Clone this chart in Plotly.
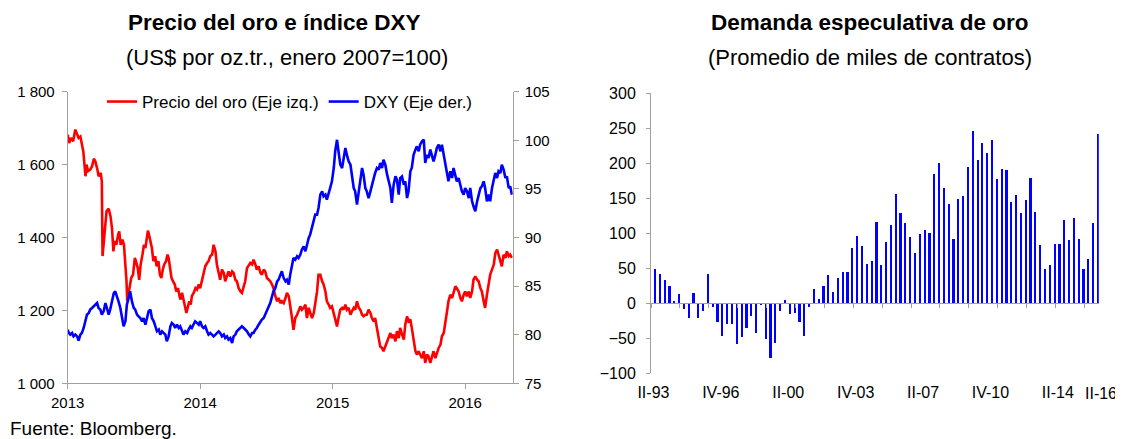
import pandas as pd
import plotly.graph_objects as go

# ---------------- Left chart data ----------------
START = "2013-01-01"
years = [2013, 2014, 2015, 2016]

# day offsets from START (positions along the axis) and values
gold_days = [0, 4, 9, 15, 21, 26, 30, 35, 39, 43, 47, 49, 52, 56, 62, 67, 72, 76, 82, 85,
             91, 94, 96, 100, 104, 107, 113, 118, 122, 126, 129, 134, 139, 142, 146, 151, 155, 159, 162, 164,
             168, 172, 175, 180, 185, 188, 193, 197, 201, 206, 210, 214, 218, 221, 225, 229, 232, 236, 241, 245,
             250, 254, 258, 262, 266, 271, 275, 278, 282, 286, 290, 295, 299, 304, 308, 311, 315, 319, 322, 327,
             331, 335, 339, 342, 347, 352, 356, 361, 365, 370, 375, 379, 384, 388, 393, 398, 402, 407,
             411, 416, 420, 425, 430, 434, 439, 443, 448, 453, 457, 462, 466, 471, 476, 480, 485, 489, 494, 499,
             503, 508, 512, 517, 521, 526, 531, 535, 540, 544, 549, 554, 558, 563, 567, 572, 577, 581, 586, 590,
             595, 600, 604, 609, 613, 618, 622, 627, 632, 636, 641, 645, 650, 655, 659, 664, 668, 673, 678, 682,
             687, 691, 696, 701, 705, 710, 714, 719, 723, 728, 733, 737, 742, 746, 751, 756, 760, 765, 769, 774,
             779, 783, 788, 792, 797, 802, 806, 811, 815, 820,
             824, 829, 834, 838, 843, 847, 852, 857, 861, 866, 870, 875, 880, 884, 889, 893, 898, 903, 907, 912,
             916, 921, 926, 930, 935, 939, 944, 948, 953, 958, 962, 967, 971, 976, 981, 985, 990, 994, 999, 1004,
             1008, 1013, 1017, 1022, 1027, 1031, 1036, 1040, 1045, 1049, 1054, 1059, 1063, 1068, 1072, 1077, 1082, 1086, 1091, 1095,
             1100, 1105, 1109, 1114, 1118, 1123, 1128, 1132, 1137, 1141, 1146, 1150, 1155, 1160, 1164, 1169, 1174, 1178, 1183, 1187,
             1192, 1196, 1201, 1206, 1210, 1215, 1219, 1224]
gold_usd = [1682, 1659, 1673, 1664, 1696, 1682, 1673, 1677, 1659, 1636, 1591, 1568, 1600, 1582, 1586, 1595, 1616, 1609, 1586, 1568,
            1577, 1554, 1349, 1399, 1426, 1472, 1479, 1458, 1426, 1362, 1390, 1380, 1408, 1417, 1380, 1394, 1380, 1335, 1280, 1225,
            1252, 1266, 1289, 1298, 1344, 1335, 1316, 1284, 1326, 1353, 1380, 1371, 1403, 1419, 1403, 1380, 1371, 1335, 1349, 1321,
            1335, 1298, 1289, 1312, 1326, 1335, 1353, 1344, 1316, 1289, 1280, 1271, 1252, 1261, 1239, 1230, 1248, 1225, 1216, 1193,
            1207, 1225, 1216, 1239, 1248, 1261, 1257, 1271, 1261, 1280, 1298, 1321, 1330, 1335, 1349, 1353, 1380, 1362,
            1326, 1298, 1284, 1312, 1303, 1280, 1298, 1307, 1293, 1307, 1303, 1284, 1280, 1261, 1252, 1248, 1266, 1280, 1316, 1326,
            1330, 1326, 1339, 1326, 1312, 1321, 1303, 1298, 1312, 1307, 1289, 1284, 1280, 1271, 1261, 1239, 1225, 1234, 1220, 1225,
            1220, 1234, 1248, 1239, 1216, 1179, 1147, 1179, 1188, 1197, 1211, 1202, 1207, 1216, 1179, 1207, 1193, 1179, 1193, 1220,
            1252, 1298, 1298, 1280, 1271, 1252, 1225, 1216, 1207, 1211, 1188, 1170, 1156, 1179, 1202, 1207, 1202, 1216, 1202, 1207,
            1188, 1197, 1207, 1202, 1225, 1207, 1202, 1188, 1184, 1188,
            1188, 1202, 1193, 1179, 1170, 1179, 1152, 1115, 1101, 1097, 1088, 1101, 1115, 1129, 1138, 1124, 1134, 1115, 1143, 1124,
            1152, 1134, 1120, 1161, 1184, 1170, 1175, 1152, 1115, 1088, 1079, 1088, 1079, 1069, 1088, 1056, 1079, 1074, 1056, 1079,
            1088, 1069, 1083, 1097, 1106, 1129, 1138, 1170, 1197, 1225, 1243, 1234, 1248, 1266, 1261, 1252, 1234, 1225, 1243, 1252,
            1239, 1252, 1234, 1252, 1284, 1293, 1284, 1280, 1261, 1252, 1225, 1207, 1243, 1280, 1298, 1312, 1326, 1357, 1367, 1353,
            1330, 1321, 1353, 1344, 1362, 1349, 1353, 1344]

dxy_days = [0, 3, 7, 12, 16, 21, 26, 30, 35, 39, 44, 49, 53, 58, 62, 67, 72, 76, 81, 85,
            90, 94, 99, 104, 108, 113, 117, 122, 127, 131, 136, 140, 145, 150, 154, 159, 163, 168, 172, 177,
            182, 186, 191, 195, 200, 205, 209, 214, 218, 223, 228, 232, 237, 241, 246, 251, 255, 260, 264, 269,
            273, 278, 283, 287, 292, 296, 301, 306, 310, 315, 319, 324, 329, 333, 338, 342, 347, 351, 356, 361,
            365, 370, 374, 379, 384, 388, 393, 397, 402, 407,
            411, 416, 420, 425, 430, 434, 439, 443, 448, 453, 457, 462, 466, 471, 476, 480, 485, 489, 494, 499,
            503, 508, 512, 517, 521, 526, 531, 535, 540, 544, 549, 554, 558, 563, 567, 572, 577, 581, 586, 590,
            595, 600, 604, 609, 613, 618, 622, 627, 632, 636, 641, 645, 650, 655, 659, 664, 668, 673, 678, 682,
            687, 691, 696, 701, 705, 710, 714, 719, 723, 728, 733, 737, 742, 746, 751, 756, 760, 765, 769, 774,
            779, 783, 788, 792, 797, 802, 806, 811, 815, 820,
            824, 829, 834, 838, 843, 847, 852, 857, 861, 866, 870, 875, 880, 884, 889, 893, 898, 903, 907, 912,
            916, 921, 926, 930, 935, 939, 944, 948, 953, 958, 962, 967, 971, 976, 981, 985, 990, 994, 999, 1004,
            1008, 1013, 1017, 1022, 1027, 1031, 1036, 1040, 1045, 1049, 1054, 1059, 1063, 1068, 1072, 1077, 1082, 1086, 1091, 1095,
            1100, 1105, 1109, 1114, 1118, 1123, 1128, 1132, 1137, 1141, 1146, 1150, 1155, 1160, 1164, 1169, 1174, 1178, 1183, 1187,
            1192, 1196, 1201, 1206, 1210, 1215, 1219, 1224]
dxy_index = [80.52, 80.18, 80.01, 80.18, 79.83, 80.01, 79.83, 79.39, 80.01, 80.18, 80.69, 81.38, 82.06, 82.23, 82.58, 82.75, 82.92, 83.09, 83.26, 82.75,
             82.58, 82.06, 82.41, 83.26, 82.75, 82.06, 82.58, 83.43, 84.29, 84.46, 83.95, 83.43, 82.75, 81.72, 80.86, 81.38, 83.09, 83.78, 84.46, 83.43,
             82.75, 82.58, 82.06, 81.89, 81.72, 81.38, 81.72, 81.03, 81.72, 82.41, 82.58, 81.72, 81.38, 80.86, 80.35, 80.52, 80.01, 80.35, 80.18, 80.01,
             79.32, 79.83, 80.86, 81.21, 81.03, 80.69, 81.03, 80.69, 80.86, 80.35, 80.01, 80.35, 80.18, 80.52, 80.86, 80.69, 81.03, 81.38, 81.21, 81.03,
             81.38, 80.86, 80.69, 80.86, 80.35, 80.01, 80.18, 80.01, 79.83, 80.01, 80.18,
             80.35, 80.18, 79.83, 80.01, 79.66, 79.83, 79.49, 79.66, 79.15, 79.83, 80.01, 80.35, 80.52, 80.69, 80.86, 80.69, 80.52, 80.35, 80.01,
             79.83, 80.18, 80.18, 80.52, 80.69, 81.03, 81.38, 81.55, 81.72, 82.06, 82.41, 82.75, 83.26, 83.95, 84.46, 84.81, 85.49, 85.66, 86.18, 86.52,
             85.83, 85.49, 85.66, 85.15, 86.18, 87.21, 87.89, 87.72, 88.06, 87.89, 88.24, 88.75, 89.09, 88.58, 89.26, 89.95, 90.29, 91.15, 91.66, 92.35,
             92.35, 93.04, 94.41, 94.75, 94.24, 94.41, 93.89, 94.75, 95.09, 95.78, 97.15, 98.87, 100.05, 98.90, 97.49, 97.15, 98.18, 99.21, 98.52, 97.84,
             97.49, 96.12, 95.09, 94.75, 93.38, 94.75, 96.12, 97.15, 96.47, 95.09,
             94.75, 94.06, 94.75, 95.44, 96.29, 96.64, 97.15, 96.98, 97.67, 97.15, 98.01, 97.49, 96.47, 95.95, 95.09, 93.55, 95.44, 96.29, 95.95, 94.41,
             96.12, 96.29, 95.44, 95.78, 94.06, 94.75, 96.81, 97.15, 98.52, 99.04, 99.38, 98.87, 99.55, 99.89, 100.07, 97.67, 98.52, 98.18, 99.04, 98.35,
             97.84, 98.52, 99.21, 99.55, 98.87, 99.55, 98.52, 97.49, 96.29, 95.78, 96.81, 96.12, 97.15, 96.47, 95.78, 96.12, 95.44, 94.75, 94.41, 95.09,
             94.75, 94.06, 95.09, 93.72, 93.21, 92.69, 93.72, 94.41, 95.09, 95.26, 95.78, 95.09, 93.72, 94.41, 93.72, 95.09, 96.12, 96.64, 96.12, 96.81,
             96.64, 97.49, 96.98, 96.12, 96.29, 95.09, 95.26, 94.41]

axis_end_day = 1226

# ---------------- Right chart data ----------------
quarters = [f"{q}-{y % 100:02d}" for y in range(1993, 2017) for q in ("I", "II", "III", "IV")][1:-2]
spec_demand = [49, 42, 33, 24, 2, 13, -9, -21, 15, -21, -12, 42, -5, -27, -47, -30, -30, -59, -49, -36,
               -19, -43, -3, -52, -79, -57, -12, 4, -16, -14, -27, -47, -5, 20, 6, 25, 40, 16, 36, 45,
               45, 78, 96, 82, 56, 60, 116, 55, 87, 112, 156, 129, 114, 94, 72, 98, 104, 100, 185, 200,
               165, 141, 92, 149, 153, 195, 246, 205, 228, 215, 233, 177, 192, 190, 145, 155, 128, 147, 179, 130,
               83, 49, 54, 85, 85, 118, 90, 121, 92, 49, 63, 114, 242]
shown_labels = ["II-93", "IV-96", "II-00", "IV-03", "II-07", "IV-10", "II-14"]
last_label = "II-16"

# ---------------- Page geometry helpers (page body has an 8px margin) ----------------
W, H, OFF = 1123, 439, 8


def px(x):
    return (x - OFF) / W


def py(y):
    return 1 - (y - OFF) / H


# ---------------- Build figure ----------------
t0 = pd.Timestamp(START)
gold_x = t0 + pd.to_timedelta(gold_days, unit="D")
dxy_x = t0 + pd.to_timedelta(dxy_days, unit="D")
q_idx = list(range(len(quarters)))

GRAY = "#A0A0A0"
FONT = "Liberation Sans, Arial, sans-serif"

fig = go.Figure()
fig.add_trace(go.Scatter(x=gold_x, y=gold_usd, name="Precio del oro (Eje izq.)", mode="lines",
                         line=dict(color="#FF0000", width=2.6), xaxis="x", yaxis="y"))
fig.add_trace(go.Scatter(x=dxy_x, y=dxy_index, name="DXY (Eje der.)", mode="lines",
                         line=dict(color="#0000FF", width=2.6), xaxis="x", yaxis="y2"))
fig.add_trace(go.Bar(x=q_idx, y=spec_demand, xaxis="x2", yaxis="y3", width=0.45, offset=0.1,
                     marker=dict(color="#0000FF", line=dict(width=0)), showlegend=False))

common = dict(showgrid=False, zeroline=False, showline=True, linecolor=GRAY, linewidth=1,
              ticks="outside", tickcolor=GRAY, tickwidth=1, automargin=False)

left_dom_x = [px(67.7), px(512.7)]
left_dom_y = [py(383.3), py(91.7)]
right_dom_x = [px(651), px(1098.8)]
right_dom_y = [py(373.3), py(93.3)]
zero_pos = right_dom_y[0] + (0 - (-100)) / (300 - (-100)) * (right_dom_y[1] - right_dom_y[0])

fig.update_layout(
    width=W, height=H, margin=dict(l=0, r=0, t=0, b=0, autoexpand=False),
    paper_bgcolor="white", plot_bgcolor="rgba(0,0,0,0)",
    font=dict(family=FONT, color="#000000", size=15),
    separators=". ",
    legend=dict(orientation="h", x=px(102), xanchor="left", y=py(102), yanchor="middle",
                font=dict(size=17), bgcolor="rgba(0,0,0,0)", itemwidth=30, tracegroupgap=0),
    xaxis=dict(domain=left_dom_x, anchor="y", type="date",
               range=[t0, t0 + pd.Timedelta(days=axis_end_day)],
               tickvals=[pd.Timestamp(f"{y}-01-01") for y in years], ticktext=[str(y) for y in years],
               ticklen=5, tickfont=dict(size=15), ticklabelstandoff=1, **common),
    yaxis=dict(domain=left_dom_y, anchor="x", range=[1000, 1800], dtick=200, tickformat=",d",
               ticklen=5, tickfont=dict(size=15), ticklabelstandoff=4, **common),
    yaxis2=dict(overlaying="y", side="right", anchor="x", range=[75, 105], dtick=5,
                ticklen=5, tickfont=dict(size=15), ticklabelstandoff=3, **common),
    xaxis2=dict(domain=right_dom_x, anchor="free", position=zero_pos, range=[-0.5, len(quarters) - 0.5],
                tickmode="linear", tick0=-0.5, dtick=6, ticklen=4, showticklabels=False, **common),
    xaxis3=dict(overlaying="x2", anchor="y3", range=[-0.5, len(quarters) - 0.5],
                tickmode="array", tickvals=[quarters.index(l) for l in shown_labels], ticktext=shown_labels,
                ticks="", showline=False, showgrid=False, zeroline=False, automargin=False,
                tickfont=dict(size=16), ticklabelstandoff=8),
    yaxis3=dict(domain=right_dom_y, anchor="x2", range=[-100, 300], dtick=50,
                ticklen=4, tickfont=dict(size=16), ticklabelstandoff=7, **common),
    bargap=0,
)

fig.update_layout(annotations=[
    dict(text="<b>Precio del oro e índice DXY</b>", x=px(274), y=py(23), xref="paper", yref="paper",
         showarrow=False, xanchor="center", yanchor="middle", font=dict(size=22.5)),
    dict(text="(US$ por oz.tr., enero 2007=100)", x=px(287), y=py(57), xref="paper", yref="paper",
         showarrow=False, xanchor="center", yanchor="middle", font=dict(size=22)),
    dict(text="<b>Demanda especulativa de oro</b>", x=px(870), y=py(23), xref="paper", yref="paper",
         showarrow=False, xanchor="center", yanchor="middle", font=dict(size=22.5)),
    dict(text="(Promedio de miles de contratos)", x=px(870), y=py(57), xref="paper", yref="paper",
         showarrow=False, xanchor="center", yanchor="middle", font=dict(size=22)),
    dict(text="Fuente: Bloomberg.", x=px(OFF), y=py(428), xref="paper", yref="paper",
         showarrow=False, xanchor="left", yanchor="middle", font=dict(size=19)),
    dict(text=last_label, x=quarters.index(last_label), y=py(393), xref="x3", yref="paper",
         xshift=5, showarrow=False, xanchor="center", yanchor="middle", font=dict(size=16)),
])

fig.write_html("out.html")
